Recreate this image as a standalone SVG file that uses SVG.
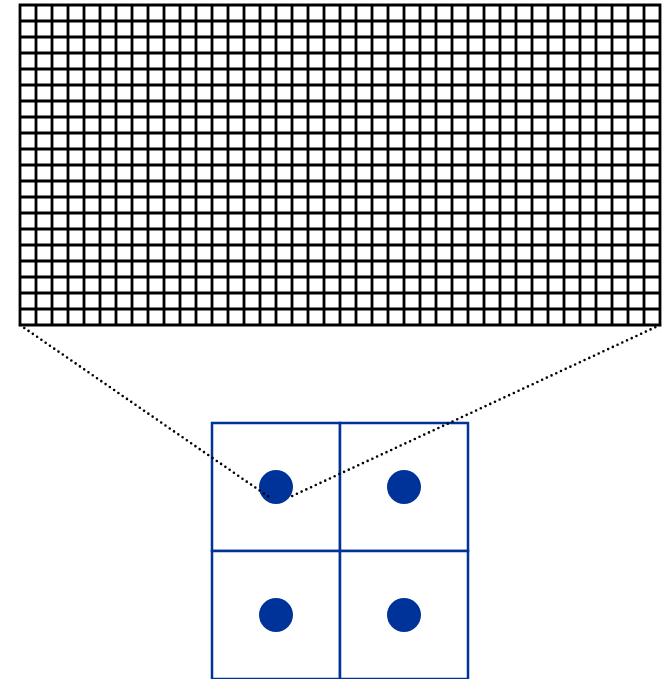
<svg xmlns="http://www.w3.org/2000/svg" width="672" height="679" viewBox="0 0 672 679">
<style>
.grid{fill:none;stroke:#000;stroke-width:2.8;stroke-linecap:square}
.cell{fill:#fff;stroke:#003399;stroke-width:2.5}
.dot{fill:#003399}
.lead{fill:none;stroke:#000;stroke-width:2.6;stroke-dasharray:0 5.2;stroke-linecap:round}
</style>
<rect width="672" height="679" fill="#fff"/>
<g id="grid">
<path class="grid" d="M20 5V325M36 5V325M52 5V325M68 5V325M84 5V325M100 5V325M116 5V325M132 5V325M148 5V325M164 5V325M180 5V325M196 5V325M212 5V325M228 5V325M244 5V325M260 5V325M276 5V325M292 5V325M308 5V325M324 5V325M340 5V325M356 5V325M372 5V325M388 5V325M404 5V325M420 5V325M436 5V325M452 5V325M468 5V325M484 5V325M500 5V325M516 5V325M532 5V325M548 5V325M564 5V325M580 5V325M596 5V325M612 5V325M628 5V325M644 5V325M660 5V325M20 5H660M20 21H660M20 37H660M20 53H660M20 69H660M20 85H660M20 101H660M20 117H660M20 133H660M20 149H660M20 165H660M20 181H660M20 197H660M20 213H660M20 229H660M20 245H660M20 261H660M20 277H660M20 293H660M20 309H660M20 325H660"/>
</g>
<g id="cell-tl"><rect class="cell" x="212" y="423" width="128" height="128"/><circle class="dot" cx="276" cy="487" r="17"/></g>
<g id="cell-tr"><rect class="cell" x="340" y="423" width="128" height="128"/><circle class="dot" cx="404" cy="487" r="17"/></g>
<g id="cell-bl"><rect class="cell" x="212" y="551" width="128" height="128"/><circle class="dot" cx="276" cy="615" r="17"/></g>
<g id="cell-br"><rect class="cell" x="340" y="551" width="128" height="128"/><circle class="dot" cx="404" cy="615" r="17"/></g>
<g id="connectors">
<path class="lead" d="M20 325L269 497"/>
<path class="lead" d="M660 325L290 497"/>
</g>
</svg>
